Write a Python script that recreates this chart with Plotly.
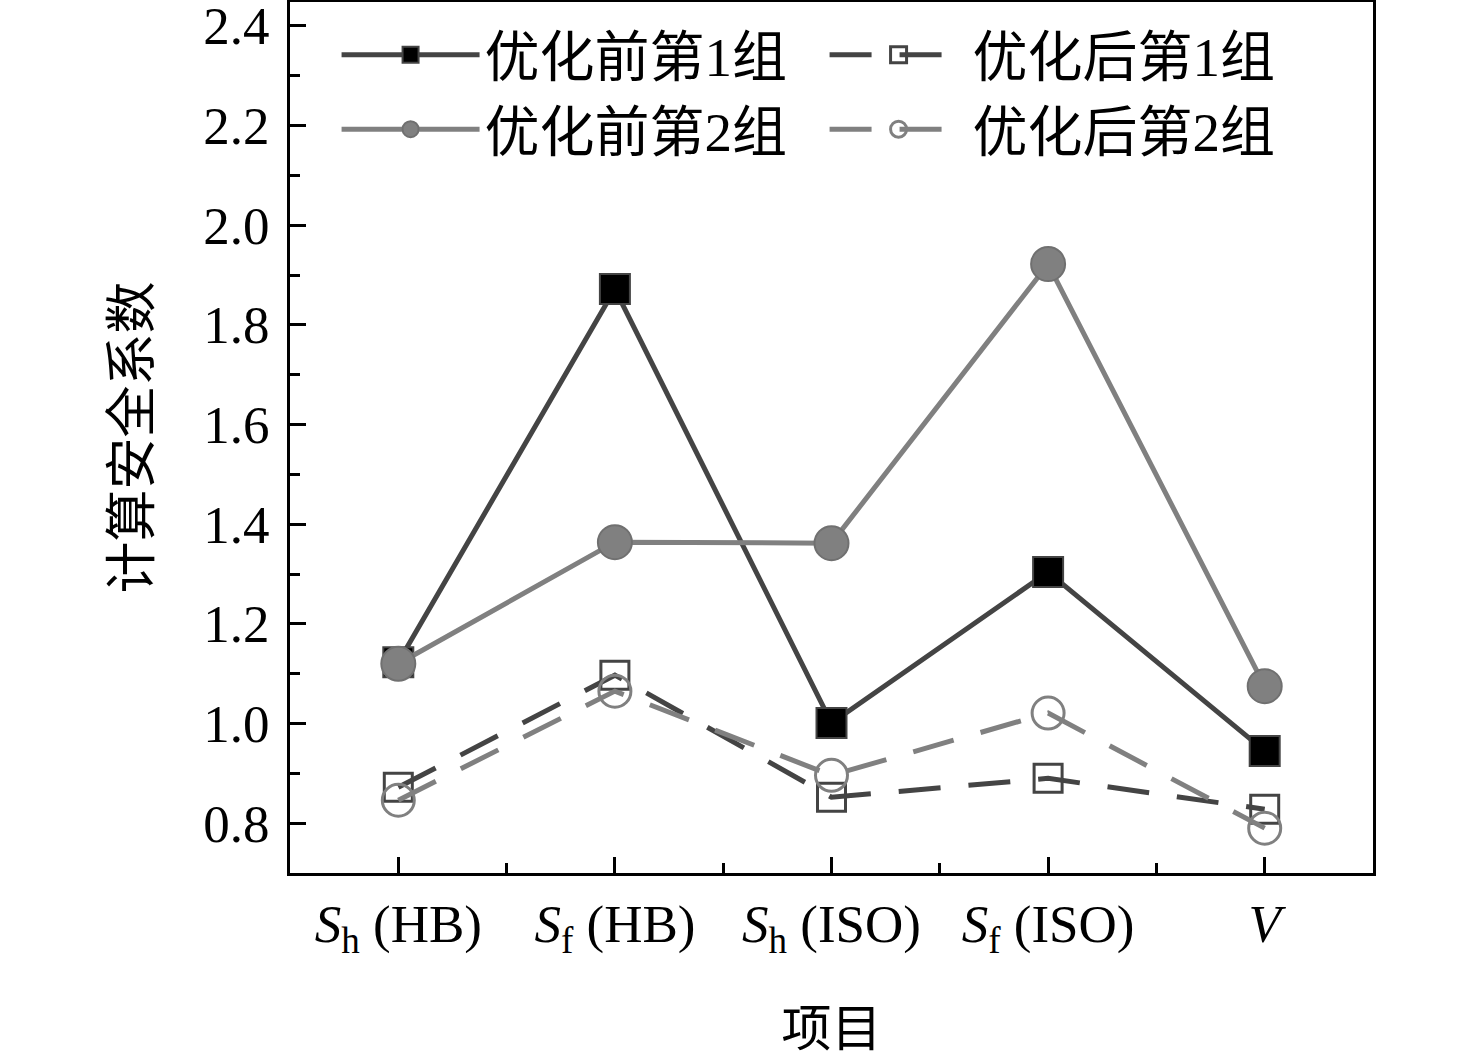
import plotly.graph_objects as go

# x categories (HTML for italic S with subscripts)
categories = [
    "<i>S</i><sub>h</sub> (HB)",
    "<i>S</i><sub>f</sub> (HB)",
    "<i>S</i><sub>h</sub> (ISO)",
    "<i>S</i><sub>f</sub> (ISO)",
    "<i>V</i>",
]

before_g1 = [1.123, 1.872, 1.001, 1.304, 0.945]
after_g1 = [0.872, 1.097, 0.852, 0.890, 0.828]
before_g2 = [1.120, 1.364, 1.362, 1.922, 1.075]
after_g2 = [0.846, 1.065, 0.896, 1.021, 0.790]

names = ["优化前第1组", "优化后第1组", "优化前第2组", "优化后第2组"]

y_ticks = [0.8, 1.0, 1.2, 1.4, 1.6, 1.8, 2.0, 2.2, 2.4]
y_minor = [0.9, 1.1, 1.3, 1.5, 1.7, 1.9, 2.1, 2.3]

DARK = "#444444"
GREY = "#808080"
SERIF = "Liberation Serif, Times New Roman, serif"
CJK = "Liberation Serif, Noto Sans CJK SC, serif"

xs = list(range(len(categories)))

fig = go.Figure()

# order matters: legend wraps into 2 columns, row by row
fig.add_trace(go.Scatter(
    x=xs, y=before_g1, name=names[0], mode="lines+markers",
    line=dict(color=DARK, width=5),
    marker=dict(symbol="square", size=30, color="black",
                line=dict(color=DARK, width=2)),
))
fig.add_trace(go.Scatter(
    x=xs, y=after_g1, name=names[1], mode="lines+markers",
    line=dict(color=DARK, width=5, dash="42px,28px"),
    marker=dict(symbol="square-open", size=28, color=DARK,
                line=dict(width=3)),
))
fig.add_trace(go.Scatter(
    x=xs, y=before_g2, name=names[2], mode="lines+markers",
    line=dict(color=GREY, width=5),
    marker=dict(symbol="circle", size=34, color=GREY,
                line=dict(color="#707070", width=2)),
))
fig.add_trace(go.Scatter(
    x=xs, y=after_g2, name=names[3], mode="lines+markers",
    line=dict(color=GREY, width=5, dash="42px,28px"),
    marker=dict(symbol="circle-open", size=32, color=GREY,
                line=dict(width=3)),
))

fig.update_layout(
    width=1476, height=1062,
    margin=dict(l=290, r=103, t=2, b=189, autoexpand=False),
    paper_bgcolor="white", plot_bgcolor="white",
    font=dict(family=SERIF, size=53, color="black"),
    showlegend=True,
    legend=dict(
        orientation="h", x=0.043, y=0.988, xanchor="left", yanchor="top",
        entrywidth=335, entrywidthmode="pixels", itemwidth=138,
        font=dict(family=CJK, size=55, color="black"),
        bgcolor="rgba(0,0,0,0)",
    ),
)

fig.update_xaxes(
    range=[-0.5, 4.5], tickmode="array", tickvals=xs, ticktext=categories,
    ticks="inside", ticklen=16, tickwidth=3, tickcolor="black",
    minor=dict(tickmode="array", tickvals=[x + 0.5 for x in xs[:-1]],
               ticks="inside", ticklen=10, tickwidth=3, tickcolor="black"),
    showline=True, linecolor="black", linewidth=3, mirror=True,
    showgrid=False, zeroline=False, ticklabelstandoff=2,
    ticklabeloverflow="allow",
    title=dict(text="项目", font=dict(family=CJK, size=50), standoff=52),
)
fig.update_yaxes(
    range=[0.70, 2.448], tickmode="array",
    tickvals=y_ticks, ticktext=[f"{v:.1f}" for v in y_ticks],
    ticks="inside", ticklen=16, tickwidth=3, tickcolor="black",
    minor=dict(tickmode="array", tickvals=y_minor,
               ticks="inside", ticklen=10, tickwidth=3, tickcolor="black"),
    showline=True, linecolor="black", linewidth=3, mirror=True,
    showgrid=False, zeroline=False, ticklabelstandoff=7,
    ticklabeloverflow="allow",
    title=dict(text="计算安全系数", font=dict(family=CJK, size=52), standoff=36),
)

fig.write_html("out.html", config={"displayModeBar": False},
               post_script="document.body.style.margin='0px';")
